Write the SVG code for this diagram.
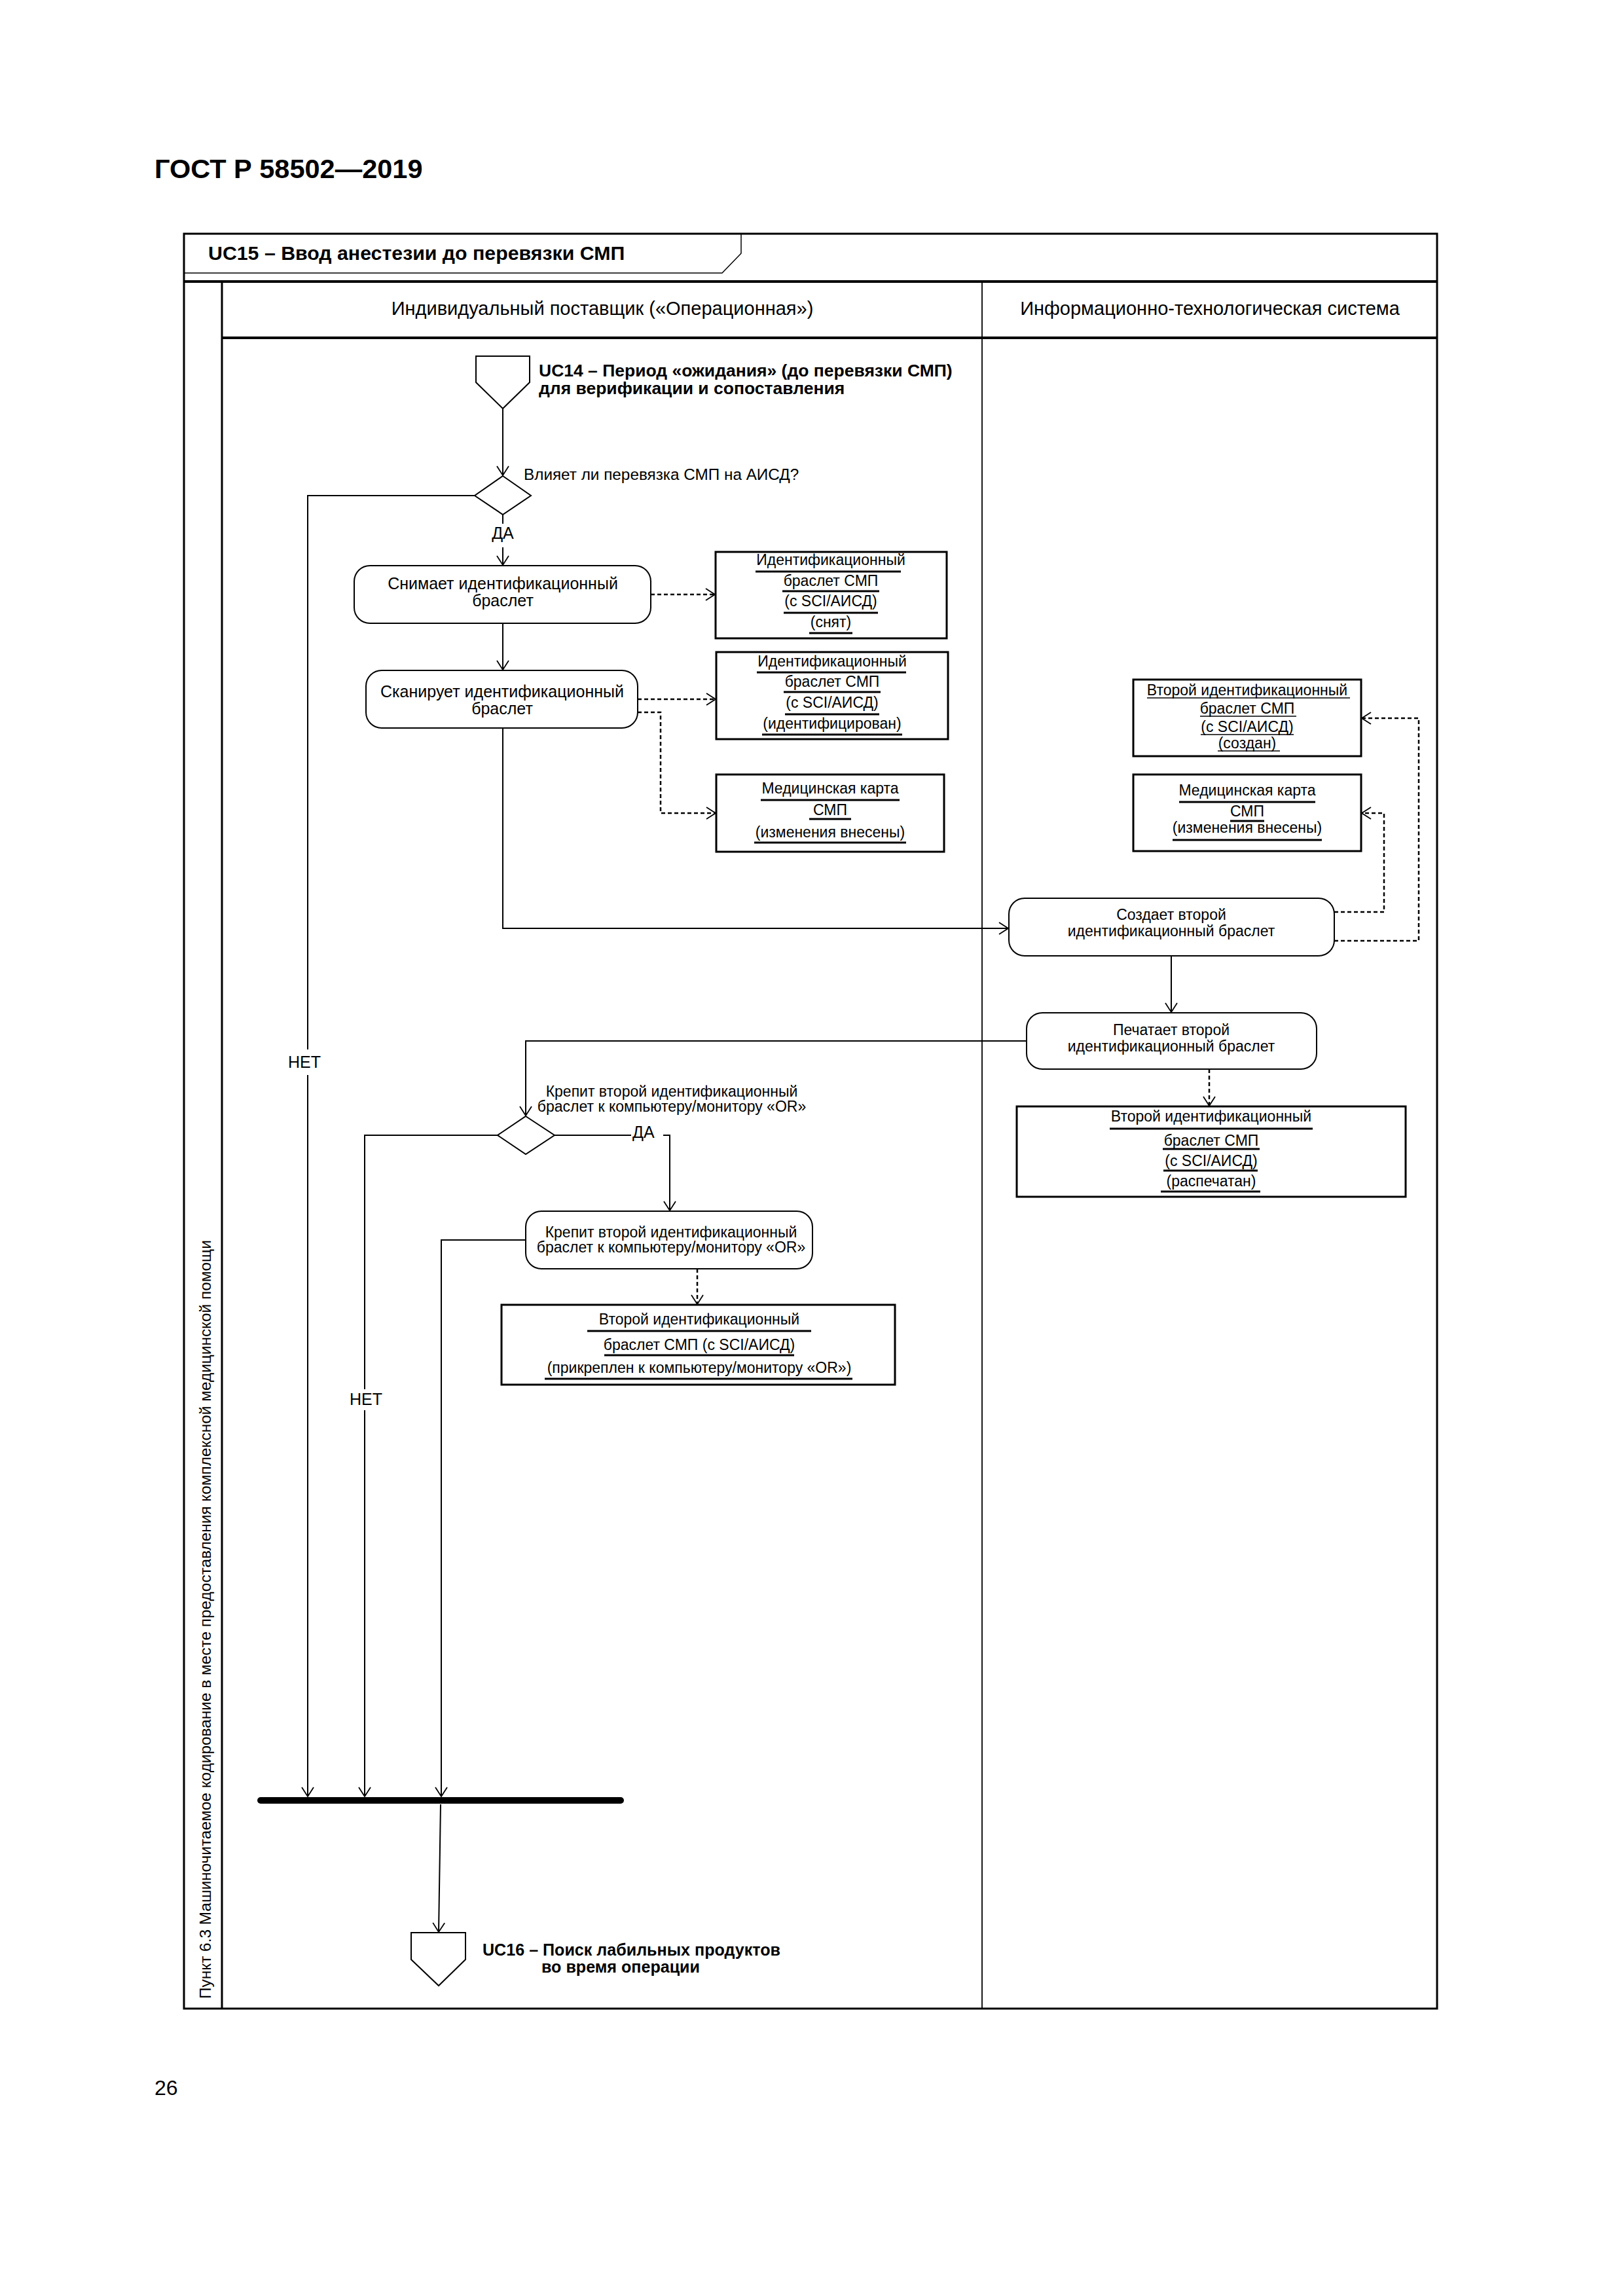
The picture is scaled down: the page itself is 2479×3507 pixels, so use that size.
<svg xmlns="http://www.w3.org/2000/svg" width="2479" height="3507" viewBox="0 0 2479 3507">
<style>
text{font-family:"Liberation Sans",Arial,sans-serif;fill:#000}
.b{font-weight:bold}
.c{text-anchor:middle}
.frame{fill:none;stroke:#000;stroke-width:3}
.thin{fill:none;stroke:#000;stroke-width:1.5}
.act{fill:#fff;stroke:#000;stroke-width:2}
.obj{fill:#fff;stroke:#000;stroke-width:3}
.ul{stroke:#000;stroke-width:3}
.ult{stroke:#000;stroke-width:1.5}
.flow{fill:none;stroke:#000;stroke-width:2;marker-end:url(#arr)}
.dash{fill:none;stroke:#000;stroke-width:2.5;stroke-dasharray:6 4;marker-end:url(#arr)}
.f23{font-size:23px}
.f25{font-size:25px}
</style>
<defs>
<marker id="arr" viewBox="0 0 16 20" refX="15" refY="10" markerWidth="16" markerHeight="20" markerUnits="userSpaceOnUse" orient="auto">
<path d="M1,1 L15,10 L1,19" fill="none" stroke="#000" stroke-width="1.8" stroke-dasharray="none"/>
</marker>
</defs>
<rect width="2479" height="3507" fill="#fff"/>
<text x="236" y="272" class="b" font-size="41.5">ГОСТ Р 58502—2019</text>
<text x="236" y="3200" font-size="32">26</text>

<g id="frame">
<rect x="281" y="357" width="1914" height="2711" class="frame"/>
<path d="M1132,357 V387 L1103,417 H281" class="thin"/>
<line x1="281" y1="430" x2="2195" y2="430" stroke="#000" stroke-width="4"/>
<line x1="339" y1="516" x2="2195" y2="516" stroke="#000" stroke-width="4"/>
<line x1="339" y1="430" x2="339" y2="3068" stroke="#000" stroke-width="3"/>
<line x1="1500" y1="430" x2="1500" y2="3068" stroke="#000" stroke-width="1.8"/>
<text x="318" y="397" class="b" font-size="30.3">UC15 – Ввод анестезии до перевязки СМП</text>
<text x="920" y="481" class="c" font-size="29">Индивидуальный поставщик («Операционная»)</text>
<text x="1848" y="481" class="c" font-size="29">Информационно-технологическая система</text>
<text transform="translate(322,3053) rotate(-90)" font-size="24.4">Пункт 6.3 Машиночитаемое кодирование в месте предоставления комплексной медицинской помощи</text>
</g>

<g id="connectors">
<path d="M768,624 V726" class="flow"/>
<path d="M768,786 V800 M768,836 V863" class="flow"/>
<path d="M725,757 H470 V1603 M470,1642 V2744" class="flow"/>
<path d="M768,952 V1023" class="flow"/>
<path d="M768,1112 V1418 H1540" class="flow"/>
<path d="M1789,1460 V1546" class="flow"/>
<path d="M1568,1590 H803 V1704" class="flow"/>
<path d="M847,1734 H964 M1013,1734 H1023 V1849" class="flow"/>
<path d="M760,1734 H557 V2122 M557,2154 V2744" class="flow"/>
<path d="M803,1894 H674 V2744" class="flow"/>
<path d="M673,2756 L670,2951" class="flow"/>
<path d="M994,908 H1092" class="dash"/>
<path d="M974,1068 H1093" class="dash"/>
<path d="M974,1088 H1009 V1242 H1093" class="dash"/>
<path d="M2038,1393 H2114 V1242 H2080" class="dash"/>
<path d="M2038,1437 H2167 V1097 H2080" class="dash"/>
<path d="M1847,1633 V1689" class="dash"/>
<path d="M1065,1938 V1992" class="dash"/>
<text x="768" y="823" class="c f25">ДА</text>
<text x="465" y="1631" class="c f25">НЕТ</text>
<text x="966" y="1738" class="f25">ДА</text>
<text x="559" y="2146" class="c f25">НЕТ</text>
</g>

<g id="uc14">
<polygon points="727,544 809,544 809,584 768,624 727,584" class="act"/>
<text x="823" y="575" class="b" font-size="26.5">UC14 – Период «ожидания» (до перевязки СМП)</text>
<text x="823" y="602" class="b" font-size="26.5">для верификации и сопоставления</text>
</g>

<g id="decision1">
<polygon points="768,727 811,757 768,786 725,757" class="act"/>
<text x="800" y="733" font-size="24.3">Влияет ли перевязка СМП на АИСД?</text>
</g>

<g id="act-remove">
<rect x="541" y="864" width="453" height="88" rx="24" class="act"/>
<text x="768" y="900" class="c f25">Снимает идентификационный</text>
<text x="768" y="926" class="c f25">браслет</text>
</g>

<g id="obj-removed">
<rect x="1093" y="843" width="353" height="132" class="obj"/>
<text x="1269" y="863" class="c f23">Идентификационный</text>
<line x1="1154" y1="873" x2="1376" y2="873" class="ul"/>
<text x="1269" y="895" class="c f23">браслет СМП</text>
<line x1="1195" y1="903" x2="1343" y2="903" class="ul"/>
<text x="1269" y="926" class="c f23">(с SCI/АИСД)</text>
<line x1="1197" y1="936" x2="1341" y2="936" class="ul"/>
<text x="1269" y="958" class="c f23">(снят)</text>
<line x1="1236" y1="967" x2="1302" y2="967" class="ul"/>
</g>

<g id="act-scan">
<rect x="559" y="1024" width="415" height="88" rx="24" class="act"/>
<text x="767" y="1065" class="c f25">Сканирует идентификационный</text>
<text x="767" y="1091" class="c f25">браслет</text>
</g>

<g id="obj-identified">
<rect x="1094" y="996" width="354" height="133" class="obj"/>
<text x="1271" y="1018" class="c f23">Идентификационный</text>
<line x1="1156" y1="1027" x2="1384" y2="1027" class="ul"/>
<text x="1271" y="1049" class="c f23">браслет СМП</text>
<line x1="1197" y1="1057" x2="1345" y2="1057" class="ul"/>
<text x="1271" y="1081" class="c f23">(с SCI/АИСД)</text>
<line x1="1199" y1="1091" x2="1343" y2="1091" class="ul"/>
<text x="1271" y="1113" class="c f23">(идентифицирован)</text>
<line x1="1164" y1="1122" x2="1378" y2="1122" class="ul"/>
</g>

<g id="obj-record-left">
<rect x="1094" y="1183" width="348" height="118" class="obj"/>
<text x="1268" y="1212" class="c f23">Медицинская карта</text>
<line x1="1162" y1="1222" x2="1374" y2="1222" class="ul"/>
<text x="1268" y="1245" class="c f23">СМП</text>
<line x1="1236" y1="1251" x2="1300" y2="1251" class="ul"/>
<text x="1268" y="1279" class="c f23">(изменения внесены)</text>
<line x1="1152" y1="1287" x2="1384" y2="1287" class="ul"/>
</g>

<g id="obj-second-created">
<rect x="1731" y="1038" width="348" height="117" class="obj"/>
<text x="1905" y="1062" class="c f23">Второй идентификационный</text>
<line x1="1752" y1="1066" x2="2062" y2="1066" class="ult"/>
<text x="1905" y="1090" class="c f23">браслет СМП</text>
<line x1="1833" y1="1094" x2="1980" y2="1094" class="ult"/>
<text x="1905" y="1118" class="c f23">(с SCI/АИСД)</text>
<line x1="1834" y1="1122" x2="1976" y2="1122" class="ult"/>
<text x="1905" y="1143" class="c f23">(создан)</text>
<line x1="1860" y1="1147" x2="1955" y2="1147" class="ult"/>
</g>

<g id="obj-record-right">
<rect x="1731" y="1183" width="348" height="117" class="obj"/>
<text x="1905" y="1215" class="c f23">Медицинская карта</text>
<line x1="1801" y1="1225" x2="2009" y2="1225" class="ul"/>
<text x="1905" y="1247" class="c f23">СМП</text>
<line x1="1879" y1="1254" x2="1931" y2="1254" class="ul"/>
<text x="1905" y="1272" class="c f23">(изменения внесены)</text>
<line x1="1791" y1="1283" x2="2019" y2="1283" class="ul"/>
</g>

<g id="act-create">
<rect x="1541" y="1372" width="497" height="88" rx="24" class="act"/>
<text x="1789" y="1405" class="c f23">Создает второй</text>
<text x="1789" y="1430" class="c f23">идентификационный браслет</text>
</g>

<g id="act-print">
<rect x="1568" y="1547" width="443" height="86" rx="24" class="act"/>
<text x="1789" y="1581" class="c f23">Печатает второй</text>
<text x="1789" y="1606" class="c f23">идентификационный браслет</text>
</g>

<g id="obj-printed">
<rect x="1553" y="1690" width="594" height="138" class="obj"/>
<text x="1850" y="1713" class="c f23">Второй идентификационный</text>
<line x1="1695" y1="1724" x2="2005" y2="1724" class="ul"/>
<text x="1850" y="1750" class="c f23">браслет СМП</text>
<line x1="1776" y1="1755" x2="1924" y2="1755" class="ul"/>
<text x="1850" y="1781" class="c f23">(с SCI/АИСД)</text>
<line x1="1777" y1="1788" x2="1921" y2="1788" class="ul"/>
<text x="1850" y="1812" class="c f23">(распечатан)</text>
<line x1="1773" y1="1820" x2="1925" y2="1820" class="ul"/>
</g>

<g id="decision2">
<polygon points="803,1705 847,1734 803,1763 760,1734" class="act"/>
<text x="1026" y="1675" class="c f23">Крепит второй идентификационный</text>
<text x="1026" y="1698" class="c f23">браслет к компьютеру/монитору «OR»</text>
</g>

<g id="act-attach">
<rect x="803" y="1850" width="438" height="88" rx="24" class="act"/>
<text x="1025" y="1890" class="c f23">Крепит второй идентификационный</text>
<text x="1025" y="1913" class="c f23">браслет к компьютеру/монитору «OR»</text>
</g>

<g id="obj-attached">
<rect x="766" y="1993" width="601" height="122" class="obj"/>
<text x="1068" y="2023" class="c f23">Второй идентификационный</text>
<line x1="897" y1="2033" x2="1239" y2="2033" class="ul"/>
<text x="1068" y="2062" class="c f23">браслет СМП (с SCI/АИСД)</text>
<line x1="923" y1="2070" x2="1213" y2="2070" class="ul"/>
<text x="1068" y="2097" class="c f23">(прикреплен к компьютеру/монитору «OR»)</text>
<line x1="832" y1="2106" x2="1302" y2="2106" class="ul"/>
</g>

<g id="join">
<rect x="393" y="2745" width="560" height="10" rx="5" fill="#000"/>
</g>

<g id="uc16">
<polygon points="628,2952 711,2952 711,2993 670,3033 628,2993" class="act"/>
<text x="737" y="2987" class="b" font-size="25.1">UC16 – Поиск лабильных продуктов</text>
<text x="827" y="3013" class="b" font-size="25.1">во время операции</text>
</g>
</svg>
